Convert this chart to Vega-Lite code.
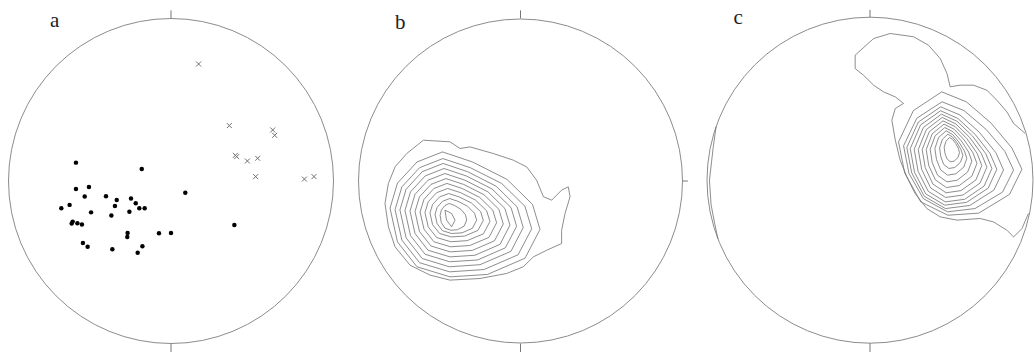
{
"$schema":"https://vega.github.io/schema/vega-lite/v6.json",
"padding":{"left":1,"top":7,"right":0,"bottom":0},
"spacing":9.5,
"bounds":"flush",
"config":{"view":{"stroke":null}},
"datasets":{
"aDots":[{"x":-0.585,"y":0.113},{"x":-0.180,"y":0.074},{"x":-0.585,"y":-0.049},{"x":-0.505,"y":-0.037},{"x":-0.531,"y":-0.096},{"x":-0.400,"y":-0.094},{"x":-0.334,"y":-0.117},{"x":-0.345,"y":-0.154},{"x":-0.246,"y":-0.108},{"x":-0.217,"y":-0.137},{"x":-0.195,"y":-0.168},{"x":-0.162,"y":-0.168},{"x":-0.256,"y":-0.189},{"x":-0.367,"y":-0.213},{"x":-0.492,"y":-0.193},{"x":-0.624,"y":-0.147},{"x":-0.675,"y":-0.168},{"x":-0.605,"y":-0.250},{"x":-0.611,"y":-0.262},{"x":-0.576,"y":-0.260},{"x":-0.548,"y":-0.268},{"x":-0.267,"y":-0.320},{"x":-0.269,"y":-0.344},{"x":-0.074,"y":-0.322},{"x":0.000,"y":-0.320},{"x":-0.542,"y":-0.381},{"x":-0.513,"y":-0.404},{"x":-0.361,"y":-0.420},{"x":-0.205,"y":-0.441},{"x":-0.176,"y":-0.402},{"x":0.088,"y":-0.072},{"x":0.390,"y":-0.271}],
"aCross":[{"x":0.170,"y":0.720},{"x":0.359,"y":0.341},{"x":0.626,"y":0.314},{"x":0.638,"y":0.281},{"x":0.396,"y":0.158},{"x":0.404,"y":0.150},{"x":0.470,"y":0.123},{"x":0.533,"y":0.140},{"x":0.521,"y":0.027},{"x":0.821,"y":0.012},{"x":0.880,"y":0.027}],
"center":[{"x":0,"y":0}],
"aTicks":[{"x":0,"y":1.0,"x2":0,"y2":1.05},{"x":0,"y":-1.0,"x2":0,"y2":-1.06}],
"bTicks":[{"x":0,"y":1.0,"x2":0,"y2":1.05},{"x":0,"y":-1.0,"x2":0,"y2":-1.055},{"x":1.0,"y":0,"x2":1.03,"y2":0}],
"cTicks":[{"x":0,"y":1.0,"x2":0,"y2":1.045},{"x":0,"y":-1.0,"x2":0,"y2":-1.06}],
"aLab":[{"x":-0.745,"y":0.949,"t":"a"}],
"bLab":[{"x":-0.772,"y":0.938,"t":"b"}],
"cLab":[{"x":-0.837,"y":0.957,"t":"c"}],
"bLines":[
{"g":"b1","i":0,"x":-0.598,"y":0.251},{"g":"b1","i":1,"x":-0.434,"y":0.241},{"g":"b1","i":2,"x":-0.372,"y":0.200},{"g":"b1","i":3,"x":-0.311,"y":0.210},{"g":"b1","i":4,"x":-0.167,"y":0.169},{"g":"b1","i":5,"x":-0.044,"y":0.128},{"g":"b1","i":6,"x":0.038,"y":0.087},{"g":"b1","i":7,"x":0.099,"y":0.005},{"g":"b1","i":8,"x":0.141,"y":-0.097},{"g":"b1","i":9,"x":0.192,"y":-0.118},{"g":"b1","i":10,"x":0.253,"y":-0.056},{"g":"b1","i":11,"x":0.294,"y":-0.036},{"g":"b1","i":12,"x":0.305,"y":-0.097},{"g":"b1","i":13,"x":0.274,"y":-0.200},{"g":"b1","i":14,"x":0.253,"y":-0.303},{"g":"b1","i":15,"x":0.253,"y":-0.385},{"g":"b1","i":16,"x":0.161,"y":-0.426},{"g":"b1","i":17,"x":0.079,"y":-0.467},{"g":"b1","i":18,"x":0.017,"y":-0.528},{"g":"b1","i":19,"x":-0.085,"y":-0.569},{"g":"b1","i":20,"x":-0.249,"y":-0.600},{"g":"b1","i":21,"x":-0.434,"y":-0.610},{"g":"b1","i":22,"x":-0.557,"y":-0.579},{"g":"b1","i":23,"x":-0.680,"y":-0.518},{"g":"b1","i":24,"x":-0.772,"y":-0.405},{"g":"b1","i":25,"x":-0.813,"y":-0.282},{"g":"b1","i":26,"x":-0.834,"y":-0.138},{"g":"b1","i":27,"x":-0.813,"y":-0.015},{"g":"b1","i":28,"x":-0.772,"y":0.087},{"g":"b1","i":29,"x":-0.700,"y":0.169},{"g":"b1","i":30,"x":-0.598,"y":0.251},
{"g":"b2","i":0,"x":-0.803,"y":-0.167},{"g":"b2","i":1,"x":-0.757,"y":-0.013},{"g":"b2","i":2,"x":-0.637,"y":0.117},{"g":"b2","i":3,"x":-0.480,"y":0.179},{"g":"b2","i":4,"x":-0.295,"y":0.117},{"g":"b2","i":5,"x":-0.083,"y":0.010},{"g":"b2","i":6,"x":0.074,"y":-0.144},{"g":"b2","i":7,"x":0.120,"y":-0.298},{"g":"b2","i":8,"x":0.028,"y":-0.475},{"g":"b2","i":9,"x":-0.203,"y":-0.575},{"g":"b2","i":10,"x":-0.434,"y":-0.590},{"g":"b2","i":11,"x":-0.637,"y":-0.528},{"g":"b2","i":12,"x":-0.757,"y":-0.375},{"g":"b2","i":13,"x":-0.803,"y":-0.167},
{"g":"b3","i":0,"x":-0.772,"y":-0.176},{"g":"b3","i":1,"x":-0.730,"y":-0.036},{"g":"b3","i":2,"x":-0.621,"y":0.082},{"g":"b3","i":3,"x":-0.478,"y":0.138},{"g":"b3","i":4,"x":-0.309,"y":0.082},{"g":"b3","i":5,"x":-0.116,"y":-0.015},{"g":"b3","i":6,"x":0.027,"y":-0.155},{"g":"b3","i":7,"x":0.069,"y":-0.294},{"g":"b3","i":8,"x":-0.015,"y":-0.454},{"g":"b3","i":9,"x":-0.225,"y":-0.545},{"g":"b3","i":10,"x":-0.436,"y":-0.559},{"g":"b3","i":11,"x":-0.621,"y":-0.503},{"g":"b3","i":12,"x":-0.730,"y":-0.364},{"g":"b3","i":13,"x":-0.772,"y":-0.176},
{"g":"b4","i":0,"x":-0.742,"y":-0.178},{"g":"b4","i":1,"x":-0.704,"y":-0.051},{"g":"b4","i":2,"x":-0.605,"y":0.057},{"g":"b4","i":3,"x":-0.476,"y":0.108},{"g":"b4","i":4,"x":-0.325,"y":0.057},{"g":"b4","i":5,"x":-0.150,"y":-0.032},{"g":"b4","i":6,"x":-0.021,"y":-0.159},{"g":"b4","i":7,"x":0.017,"y":-0.286},{"g":"b4","i":8,"x":-0.059,"y":-0.433},{"g":"b4","i":9,"x":-0.249,"y":-0.515},{"g":"b4","i":10,"x":-0.438,"y":-0.528},{"g":"b4","i":11,"x":-0.605,"y":-0.477},{"g":"b4","i":12,"x":-0.704,"y":-0.350},{"g":"b4","i":13,"x":-0.742,"y":-0.178},
{"g":"b5","i":0,"x":-0.711,"y":-0.181},{"g":"b5","i":1,"x":-0.677,"y":-0.067},{"g":"b5","i":2,"x":-0.587,"y":0.031},{"g":"b5","i":3,"x":-0.471,"y":0.077},{"g":"b5","i":4,"x":-0.333,"y":0.031},{"g":"b5","i":5,"x":-0.175,"y":-0.049},{"g":"b5","i":6,"x":-0.058,"y":-0.164},{"g":"b5","i":7,"x":-0.024,"y":-0.279},{"g":"b5","i":8,"x":-0.093,"y":-0.411},{"g":"b5","i":9,"x":-0.264,"y":-0.486},{"g":"b5","i":10,"x":-0.436,"y":-0.497},{"g":"b5","i":11,"x":-0.587,"y":-0.451},{"g":"b5","i":12,"x":-0.677,"y":-0.336},{"g":"b5","i":13,"x":-0.711,"y":-0.181},
{"g":"b6","i":0,"x":-0.680,"y":-0.185},{"g":"b6","i":1,"x":-0.649,"y":-0.082},{"g":"b6","i":2,"x":-0.569,"y":0.005},{"g":"b6","i":3,"x":-0.465,"y":0.046},{"g":"b6","i":4,"x":-0.342,"y":0.005},{"g":"b6","i":5,"x":-0.200,"y":-0.067},{"g":"b6","i":6,"x":-0.096,"y":-0.169},{"g":"b6","i":7,"x":-0.065,"y":-0.272},{"g":"b6","i":8,"x":-0.126,"y":-0.390},{"g":"b6","i":9,"x":-0.280,"y":-0.457},{"g":"b6","i":10,"x":-0.434,"y":-0.467},{"g":"b6","i":11,"x":-0.569,"y":-0.426},{"g":"b6","i":12,"x":-0.649,"y":-0.323},{"g":"b6","i":13,"x":-0.680,"y":-0.185},
{"g":"b7","i":0,"x":-0.649,"y":-0.188},{"g":"b7","i":1,"x":-0.622,"y":-0.098},{"g":"b7","i":2,"x":-0.551,"y":-0.021},{"g":"b7","i":3,"x":-0.459,"y":0.015},{"g":"b7","i":4,"x":-0.350,"y":-0.021},{"g":"b7","i":5,"x":-0.225,"y":-0.084},{"g":"b7","i":6,"x":-0.133,"y":-0.174},{"g":"b7","i":7,"x":-0.106,"y":-0.265},{"g":"b7","i":8,"x":-0.160,"y":-0.368},{"g":"b7","i":9,"x":-0.296,"y":-0.427},{"g":"b7","i":10,"x":-0.432,"y":-0.436},{"g":"b7","i":11,"x":-0.551,"y":-0.400},{"g":"b7","i":12,"x":-0.622,"y":-0.310},{"g":"b7","i":13,"x":-0.649,"y":-0.188},
{"g":"b8","i":0,"x":-0.618,"y":-0.191},{"g":"b8","i":1,"x":-0.594,"y":-0.113},{"g":"b8","i":2,"x":-0.533,"y":-0.046},{"g":"b8","i":3,"x":-0.453,"y":-0.015},{"g":"b8","i":4,"x":-0.359,"y":-0.046},{"g":"b8","i":5,"x":-0.251,"y":-0.101},{"g":"b8","i":6,"x":-0.171,"y":-0.179},{"g":"b8","i":7,"x":-0.147,"y":-0.257},{"g":"b8","i":8,"x":-0.194,"y":-0.347},{"g":"b8","i":9,"x":-0.312,"y":-0.397},{"g":"b8","i":10,"x":-0.430,"y":-0.405},{"g":"b8","i":11,"x":-0.533,"y":-0.374},{"g":"b8","i":12,"x":-0.594,"y":-0.296},{"g":"b8","i":13,"x":-0.618,"y":-0.191},
{"g":"b9","i":0,"x":-0.588,"y":-0.194},{"g":"b9","i":1,"x":-0.568,"y":-0.128},{"g":"b9","i":2,"x":-0.516,"y":-0.072},{"g":"b9","i":3,"x":-0.448,"y":-0.046},{"g":"b9","i":4,"x":-0.368,"y":-0.072},{"g":"b9","i":5,"x":-0.276,"y":-0.118},{"g":"b9","i":6,"x":-0.208,"y":-0.184},{"g":"b9","i":7,"x":-0.188,"y":-0.249},{"g":"b9","i":8,"x":-0.228,"y":-0.325},{"g":"b9","i":9,"x":-0.328,"y":-0.367},{"g":"b9","i":10,"x":-0.428,"y":-0.374},{"g":"b9","i":11,"x":-0.516,"y":-0.348},{"g":"b9","i":12,"x":-0.568,"y":-0.282},{"g":"b9","i":13,"x":-0.588,"y":-0.194},
{"g":"b10","i":0,"x":-0.557,"y":-0.197},{"g":"b10","i":1,"x":-0.541,"y":-0.144},{"g":"b10","i":2,"x":-0.498,"y":-0.098},{"g":"b10","i":3,"x":-0.442,"y":-0.077},{"g":"b10","i":4,"x":-0.377,"y":-0.098},{"g":"b10","i":5,"x":-0.301,"y":-0.136},{"g":"b10","i":6,"x":-0.245,"y":-0.189},{"g":"b10","i":7,"x":-0.229,"y":-0.243},{"g":"b10","i":8,"x":-0.262,"y":-0.304},{"g":"b10","i":9,"x":-0.344,"y":-0.339},{"g":"b10","i":10,"x":-0.426,"y":-0.344},{"g":"b10","i":11,"x":-0.498,"y":-0.323},{"g":"b10","i":12,"x":-0.541,"y":-0.269},{"g":"b10","i":13,"x":-0.557,"y":-0.197},
{"g":"b11","i":0,"x":-0.526,"y":-0.205},{"g":"b11","i":1,"x":-0.513,"y":-0.162},{"g":"b11","i":2,"x":-0.480,"y":-0.125},{"g":"b11","i":3,"x":-0.436,"y":-0.108},{"g":"b11","i":4,"x":-0.385,"y":-0.125},{"g":"b11","i":5,"x":-0.326,"y":-0.155},{"g":"b11","i":6,"x":-0.283,"y":-0.198},{"g":"b11","i":7,"x":-0.270,"y":-0.241},{"g":"b11","i":8,"x":-0.296,"y":-0.291},{"g":"b11","i":9,"x":-0.360,"y":-0.319},{"g":"b11","i":10,"x":-0.424,"y":-0.323},{"g":"b11","i":11,"x":-0.480,"y":-0.306},{"g":"b11","i":12,"x":-0.513,"y":-0.263},{"g":"b11","i":13,"x":-0.526,"y":-0.205},
{"g":"b12","i":0,"x":-0.495,"y":-0.212},{"g":"b12","i":1,"x":-0.487,"y":-0.179},{"g":"b12","i":2,"x":-0.465,"y":-0.151},{"g":"b12","i":3,"x":-0.438,"y":-0.138},{"g":"b12","i":4,"x":-0.405,"y":-0.151},{"g":"b12","i":5,"x":-0.367,"y":-0.174},{"g":"b12","i":6,"x":-0.339,"y":-0.207},{"g":"b12","i":7,"x":-0.331,"y":-0.240},{"g":"b12","i":8,"x":-0.347,"y":-0.278},{"g":"b12","i":9,"x":-0.388,"y":-0.300},{"g":"b12","i":10,"x":-0.429,"y":-0.303},{"g":"b12","i":11,"x":-0.465,"y":-0.290},{"g":"b12","i":12,"x":-0.487,"y":-0.257},{"g":"b12","i":13,"x":-0.495,"y":-0.212},
{"g":"b13","i":0,"x":-0.465,"y":-0.179},{"g":"b13","i":1,"x":-0.424,"y":-0.200},{"g":"b13","i":2,"x":-0.403,"y":-0.241},{"g":"b13","i":3,"x":-0.424,"y":-0.282},{"g":"b13","i":4,"x":-0.455,"y":-0.241},{"g":"b13","i":5,"x":-0.465,"y":-0.179}
],
"cLines":[
{"g":"cA","i":0,"x":0.952,"y":0.287},{"g":"cA","i":1,"x":0.881,"y":0.348},{"g":"cA","i":2,"x":0.840,"y":0.419},{"g":"cA","i":3,"x":0.778,"y":0.491},{"g":"cA","i":4,"x":0.717,"y":0.552},{"g":"cA","i":5,"x":0.635,"y":0.583},{"g":"cA","i":6,"x":0.553,"y":0.583},{"g":"cA","i":7,"x":0.492,"y":0.573},{"g":"cA","i":8,"x":0.472,"y":0.655},{"g":"cA","i":9,"x":0.431,"y":0.746},{"g":"cA","i":10,"x":0.359,"y":0.828},{"g":"cA","i":11,"x":0.267,"y":0.880},{"g":"cA","i":12,"x":0.124,"y":0.900},{"g":"cA","i":13,"x":0.022,"y":0.869},{"g":"cA","i":14,"x":-0.091,"y":0.767},{"g":"cA","i":15,"x":-0.091,"y":0.685},{"g":"cA","i":16,"x":-0.040,"y":0.644},{"g":"cA","i":17,"x":0.022,"y":0.583},{"g":"cA","i":18,"x":0.083,"y":0.542},{"g":"cA","i":19,"x":0.155,"y":0.511},{"g":"cA","i":20,"x":0.206,"y":0.471},{"g":"cA","i":21,"x":0.155,"y":0.440},{"g":"cA","i":22,"x":0.134,"y":0.368},{"g":"cA","i":23,"x":0.155,"y":0.246},{"g":"cA","i":24,"x":0.185,"y":0.123},{"g":"cA","i":25,"x":0.226,"y":0.021},{"g":"cA","i":26,"x":0.277,"y":-0.082},{"g":"cA","i":27,"x":0.349,"y":-0.174},{"g":"cA","i":28,"x":0.431,"y":-0.225},{"g":"cA","i":29,"x":0.533,"y":-0.245},{"g":"cA","i":30,"x":0.676,"y":-0.235},{"g":"cA","i":31,"x":0.758,"y":-0.256},{"g":"cA","i":32,"x":0.840,"y":-0.307},{"g":"cA","i":33,"x":0.881,"y":-0.348},{"g":"cA","i":34,"x":0.932,"y":-0.297},{"g":"cA","i":35,"x":0.972,"y":-0.204},
{"g":"cB","i":0,"x":0.440,"y":0.542},{"g":"cB","i":1,"x":0.591,"y":0.481},{"g":"cB","i":2,"x":0.743,"y":0.350},{"g":"cB","i":3,"x":0.871,"y":0.197},{"g":"cB","i":4,"x":0.932,"y":0.067},{"g":"cB","i":5,"x":0.856,"y":-0.087},{"g":"cB","i":6,"x":0.667,"y":-0.202},{"g":"cB","i":7,"x":0.478,"y":-0.215},{"g":"cB","i":8,"x":0.311,"y":-0.133},{"g":"cB","i":9,"x":0.213,"y":0.044},{"g":"cB","i":10,"x":0.175,"y":0.235},{"g":"cB","i":11,"x":0.266,"y":0.427},{"g":"cB","i":12,"x":0.440,"y":0.542},
{"g":"cC","i":0,"x":0.442,"y":0.481},{"g":"cC","i":1,"x":0.577,"y":0.427},{"g":"cC","i":2,"x":0.712,"y":0.312},{"g":"cC","i":3,"x":0.827,"y":0.177},{"g":"cC","i":4,"x":0.881,"y":0.062},{"g":"cC","i":5,"x":0.813,"y":-0.073},{"g":"cC","i":6,"x":0.644,"y":-0.174},{"g":"cC","i":7,"x":0.476,"y":-0.194},{"g":"cC","i":8,"x":0.327,"y":-0.113},{"g":"cC","i":9,"x":0.239,"y":0.042},{"g":"cC","i":10,"x":0.206,"y":0.211},{"g":"cC","i":11,"x":0.287,"y":0.380},{"g":"cC","i":12,"x":0.442,"y":0.481},
{"g":"cD","i":0,"x":0.434,"y":0.450},{"g":"cD","i":1,"x":0.552,"y":0.400},{"g":"cD","i":2,"x":0.671,"y":0.294},{"g":"cD","i":3,"x":0.772,"y":0.169},{"g":"cD","i":4,"x":0.819,"y":0.063},{"g":"cD","i":5,"x":0.760,"y":-0.061},{"g":"cD","i":6,"x":0.612,"y":-0.155},{"g":"cD","i":7,"x":0.463,"y":-0.174},{"g":"cD","i":8,"x":0.333,"y":-0.099},{"g":"cD","i":9,"x":0.256,"y":0.045},{"g":"cD","i":10,"x":0.226,"y":0.201},{"g":"cD","i":11,"x":0.297,"y":0.357},{"g":"cD","i":12,"x":0.434,"y":0.450},
{"g":"cE","i":0,"x":0.433,"y":0.426},{"g":"cE","i":1,"x":0.539,"y":0.379},{"g":"cE","i":2,"x":0.645,"y":0.281},{"g":"cE","i":3,"x":0.736,"y":0.165},{"g":"cE","i":4,"x":0.778,"y":0.067},{"g":"cE","i":5,"x":0.725,"y":-0.049},{"g":"cE","i":6,"x":0.592,"y":-0.136},{"g":"cE","i":7,"x":0.459,"y":-0.153},{"g":"cE","i":8,"x":0.342,"y":-0.084},{"g":"cE","i":9,"x":0.273,"y":0.049},{"g":"cE","i":10,"x":0.247,"y":0.194},{"g":"cE","i":11,"x":0.310,"y":0.339},{"g":"cE","i":12,"x":0.433,"y":0.426},
{"g":"cF","i":0,"x":0.438,"y":0.405},{"g":"cF","i":1,"x":0.533,"y":0.362},{"g":"cF","i":2,"x":0.629,"y":0.271},{"g":"cF","i":3,"x":0.710,"y":0.163},{"g":"cF","i":4,"x":0.748,"y":0.072},{"g":"cF","i":5,"x":0.700,"y":-0.036},{"g":"cF","i":6,"x":0.581,"y":-0.117},{"g":"cF","i":7,"x":0.462,"y":-0.133},{"g":"cF","i":8,"x":0.357,"y":-0.068},{"g":"cF","i":9,"x":0.295,"y":0.055},{"g":"cF","i":10,"x":0.271,"y":0.190},{"g":"cF","i":11,"x":0.328,"y":0.324},{"g":"cF","i":12,"x":0.438,"y":0.405},
{"g":"cG","i":0,"x":0.443,"y":0.385},{"g":"cG","i":1,"x":0.527,"y":0.345},{"g":"cG","i":2,"x":0.612,"y":0.262},{"g":"cG","i":3,"x":0.683,"y":0.164},{"g":"cG","i":4,"x":0.717,"y":0.080},{"g":"cG","i":5,"x":0.675,"y":-0.018},{"g":"cG","i":6,"x":0.570,"y":-0.091},{"g":"cG","i":7,"x":0.464,"y":-0.106},{"g":"cG","i":8,"x":0.372,"y":-0.047},{"g":"cG","i":9,"x":0.317,"y":0.066},{"g":"cG","i":10,"x":0.296,"y":0.188},{"g":"cG","i":11,"x":0.346,"y":0.311},{"g":"cG","i":12,"x":0.443,"y":0.385},
{"g":"cH","i":0,"x":0.448,"y":0.364},{"g":"cH","i":1,"x":0.522,"y":0.329},{"g":"cH","i":2,"x":0.595,"y":0.254},{"g":"cH","i":3,"x":0.657,"y":0.165},{"g":"cH","i":4,"x":0.686,"y":0.090},{"g":"cH","i":5,"x":0.650,"y":0.002},{"g":"cH","i":6,"x":0.558,"y":-0.064},{"g":"cH","i":7,"x":0.467,"y":-0.077},{"g":"cH","i":8,"x":0.386,"y":-0.024},{"g":"cH","i":9,"x":0.339,"y":0.077},{"g":"cH","i":10,"x":0.320,"y":0.188},{"g":"cH","i":11,"x":0.364,"y":0.298},{"g":"cH","i":12,"x":0.448,"y":0.364},
{"g":"cI","i":0,"x":0.454,"y":0.344},{"g":"cI","i":1,"x":0.516,"y":0.313},{"g":"cI","i":2,"x":0.578,"y":0.247},{"g":"cI","i":3,"x":0.631,"y":0.169},{"g":"cI","i":4,"x":0.656,"y":0.103},{"g":"cI","i":5,"x":0.625,"y":0.025},{"g":"cI","i":6,"x":0.547,"y":-0.033},{"g":"cI","i":7,"x":0.469,"y":-0.045},{"g":"cI","i":8,"x":0.401,"y":0.002},{"g":"cI","i":9,"x":0.360,"y":0.091},{"g":"cI","i":10,"x":0.345,"y":0.188},{"g":"cI","i":11,"x":0.382,"y":0.285},{"g":"cI","i":12,"x":0.454,"y":0.344},
{"g":"cJ","i":0,"x":0.459,"y":0.323},{"g":"cJ","i":1,"x":0.510,"y":0.297},{"g":"cJ","i":2,"x":0.561,"y":0.240},{"g":"cJ","i":3,"x":0.605,"y":0.173},{"g":"cJ","i":4,"x":0.625,"y":0.117},{"g":"cJ","i":5,"x":0.599,"y":0.050},{"g":"cJ","i":6,"x":0.535,"y":0.000},{"g":"cJ","i":7,"x":0.472,"y":-0.010},{"g":"cJ","i":8,"x":0.415,"y":0.030},{"g":"cJ","i":9,"x":0.382,"y":0.107},{"g":"cJ","i":10,"x":0.369,"y":0.190},{"g":"cJ","i":11,"x":0.400,"y":0.273},{"g":"cJ","i":12,"x":0.459,"y":0.323},
{"g":"cK","i":0,"x":0.467,"y":0.303},{"g":"cK","i":1,"x":0.506,"y":0.281},{"g":"cK","i":2,"x":0.545,"y":0.235},{"g":"cK","i":3,"x":0.579,"y":0.180},{"g":"cK","i":4,"x":0.594,"y":0.134},{"g":"cK","i":5,"x":0.575,"y":0.080},{"g":"cK","i":6,"x":0.526,"y":0.039},{"g":"cK","i":7,"x":0.476,"y":0.031},{"g":"cK","i":8,"x":0.433,"y":0.064},{"g":"cK","i":9,"x":0.408,"y":0.126},{"g":"cK","i":10,"x":0.398,"y":0.194},{"g":"cK","i":11,"x":0.421,"y":0.262},{"g":"cK","i":12,"x":0.467,"y":0.303},
{"g":"cL","i":0,"x":0.477,"y":0.282},{"g":"cL","i":1,"x":0.505,"y":0.266},{"g":"cL","i":2,"x":0.534,"y":0.230},{"g":"cL","i":3,"x":0.558,"y":0.188},{"g":"cL","i":4,"x":0.570,"y":0.152},{"g":"cL","i":5,"x":0.555,"y":0.110},{"g":"cL","i":6,"x":0.520,"y":0.078},{"g":"cL","i":7,"x":0.484,"y":0.072},{"g":"cL","i":8,"x":0.452,"y":0.097},{"g":"cL","i":9,"x":0.434,"y":0.145},{"g":"cL","i":10,"x":0.427,"y":0.198},{"g":"cL","i":11,"x":0.444,"y":0.251},{"g":"cL","i":12,"x":0.477,"y":0.282},
{"g":"cM","i":0,"x":0.488,"y":0.262},{"g":"cM","i":1,"x":0.507,"y":0.250},{"g":"cM","i":2,"x":0.526,"y":0.225},{"g":"cM","i":3,"x":0.542,"y":0.195},{"g":"cM","i":4,"x":0.549,"y":0.169},{"g":"cM","i":5,"x":0.540,"y":0.139},{"g":"cM","i":6,"x":0.516,"y":0.117},{"g":"cM","i":7,"x":0.493,"y":0.113},{"g":"cM","i":8,"x":0.472,"y":0.131},{"g":"cM","i":9,"x":0.460,"y":0.165},{"g":"cM","i":10,"x":0.455,"y":0.202},{"g":"cM","i":11,"x":0.466,"y":0.239},{"g":"cM","i":12,"x":0.488,"y":0.262},
{"g":"cW","i":0,"x":-0.944,"y":0.330},{"g":"cW","i":1,"x":-0.962,"y":0.200},{"g":"cW","i":2,"x":-0.985,"y":0.000},{"g":"cW","i":3,"x":-0.975,"y":-0.150},{"g":"cW","i":4,"x":-0.952,"y":-0.270},{"g":"cW","i":5,"x":-0.933,"y":-0.360}
]
},
"hconcat":[
{"width":340,"height":340,
 "encoding":{"x":{"field":"x","type":"quantitative","scale":{"domain":[-1.0462,1.0462]},"axis":null},"y":{"field":"y","type":"quantitative","scale":{"domain":[-1.0462,1.0462]},"axis":null}},
 "layer":[
  {"data":{"name":"center"},"mark":{"type":"point","shape":"circle","size":105625,"filled":false,"stroke":"#8c8c8c","strokeWidth":1,"opacity":1}},
  {"data":{"name":"aTicks"},"mark":{"type":"rule","stroke":"#777777","strokeWidth":1},"encoding":{"x2":{"field":"x2"},"y2":{"field":"y2"}}},
  {"data":{"name":"aDots"},"mark":{"type":"point","shape":"circle","size":20,"filled":true,"color":"#000000","opacity":1}},
  {"data":{"name":"aCross"},"mark":{"type":"point","shape":"M-1,-1L1,1M-1,1L1,-1","size":25,"filled":false,"stroke":"#707070","strokeWidth":1,"opacity":1}},
  {"data":{"name":"aLab"},"mark":{"type":"text","align":"left","baseline":"alphabetic","font":"Liberation Serif","fontSize":21,"color":"#222222"},"encoding":{"text":{"field":"t"}}}
 ]},
{"width":340,"height":340,
 "encoding":{"x":{"field":"x","type":"quantitative","scale":{"domain":[-1.0462,1.0462]},"axis":null},"y":{"field":"y","type":"quantitative","scale":{"domain":[-1.0462,1.0462]},"axis":null}},
 "layer":[
  {"data":{"name":"center"},"mark":{"type":"point","shape":"circle","size":104976,"filled":false,"stroke":"#8c8c8c","strokeWidth":1,"opacity":1}},
  {"data":{"name":"bTicks"},"mark":{"type":"rule","stroke":"#777777","strokeWidth":1},"encoding":{"x2":{"field":"x2"},"y2":{"field":"y2"}}},
  {"data":{"name":"bLines"},"mark":{"type":"line","stroke":"#707070","strokeWidth":0.8},"encoding":{"detail":{"field":"g"},"order":{"field":"i","type":"quantitative"}}},
  {"data":{"name":"bLab"},"mark":{"type":"text","align":"left","baseline":"alphabetic","font":"Liberation Serif","fontSize":21,"color":"#222222"},"encoding":{"text":{"field":"t"}}}
 ]},
{"width":340,"height":340,
 "encoding":{"x":{"field":"x","type":"quantitative","scale":{"domain":[-1.0429,1.0429]},"axis":null},"y":{"field":"y","type":"quantitative","scale":{"domain":[-1.0478,1.0380]},"axis":null}},
 "layer":[
  {"data":{"name":"center"},"mark":{"type":"point","shape":"circle","size":106276,"filled":false,"stroke":"#8c8c8c","strokeWidth":1,"opacity":1}},
  {"data":{"name":"cTicks"},"mark":{"type":"rule","stroke":"#777777","strokeWidth":1},"encoding":{"x2":{"field":"x2"},"y2":{"field":"y2"}}},
  {"data":{"name":"cLines"},"mark":{"type":"line","stroke":"#707070","strokeWidth":0.8},"encoding":{"detail":{"field":"g"},"order":{"field":"i","type":"quantitative"}}},
  {"data":{"name":"cLab"},"mark":{"type":"text","align":"left","baseline":"alphabetic","font":"Liberation Serif","fontSize":21,"color":"#222222"},"encoding":{"text":{"field":"t"}}}
 ]}
]
}
